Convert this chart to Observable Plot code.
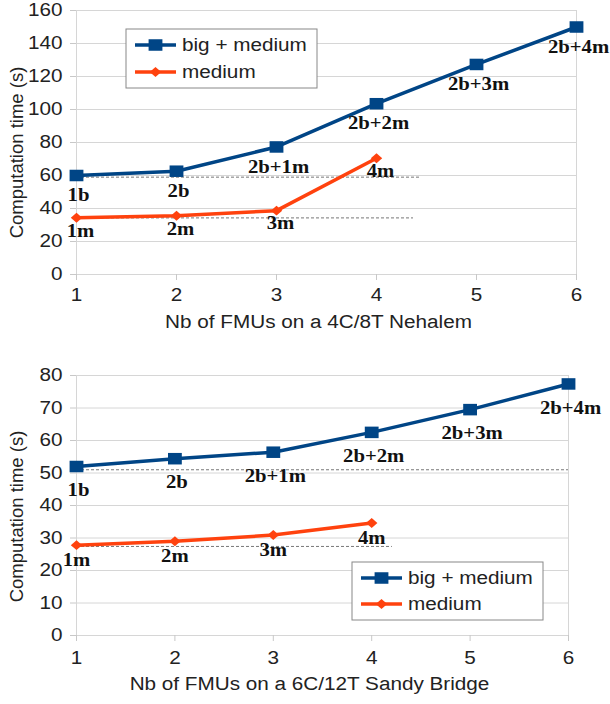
<!DOCTYPE html>
<html><head><meta charset="utf-8">
<script src="https://cdn.jsdelivr.net/npm/d3@7"></script>
<script src="https://cdn.jsdelivr.net/npm/@observablehq/plot@0.6"></script>
<style>body{margin:0;background:#fff;} svg{display:block;}</style>
</head><body><div id="chart"></div>
<script>
// shared categories
const xs = [1, 2, 3, 4, 5, 6];
const seriesNames = ["big + medium", "medium"];
const colors = ["#004586", "#ff420e"];

// top chart: 4C/8T Nehalem
const nehalemBig = [60, 62.6, 77.3, 103.5, 127.3, 150];
const nehalemMedium = [34.4, 35.6, 38.7, 70.5];
const nehalemBigLabels = ["1b", "2b", "2b+1m", "2b+2m", "2b+3m", "2b+4m"];
const nehalemMediumLabels = ["1m", "2m", "3m", "4m"];
const nehalemRefValues = [59, 34.3];
const nehalemRefEnds = [4.45, 4.37];
const nehalemYTicks = [0, 20, 40, 60, 80, 100, 120, 140, 160];
const nehalemTitle = "Nb of FMUs on a 4C/8T Nehalem";

// bottom chart: 6C/12T Sandy Bridge
const sandyBig = [52, 54.4, 56.4, 62.5, 69.5, 77.4];
const sandyMedium = [27.8, 29, 30.9, 34.6];
const sandyBigLabels = ["1b", "2b", "2b+1m", "2b+2m", "2b+3m", "2b+4m"];
const sandyMediumLabels = ["1m", "2m", "3m", "4m"];
const sandyRefValues = [51, 27.4];
const sandyRefEnds = [6, 4.21];
const sandyYTicks = [0, 10, 20, 30, 40, 50, 60, 70, 80];
const sandyTitle = "Nb of FMUs on a 6C/12T Sandy Bridge";

const yAxisTitle = "Computation time (s)";

// the original chart is slightly stretched horizontally
const STRETCH = 1.15;
const wideSquare = {draw(ctx, size) { const h = Math.sqrt(size), w = h * 1.2; ctx.rect(-w / 2, -h / 2, w, h); }};
const wideDiamond = {draw(ctx, size) { const h = Math.sqrt(size), w = h * 1.15; ctx.moveTo(0, -h / 2); ctx.lineTo(w / 2, 0); ctx.lineTo(0, h / 2); ctx.lineTo(-w / 2, 0); ctx.closePath(); }};
const SQ_R = 6.5, DI_R = 5.6;

function stretchTexts(svg) {
  svg.querySelectorAll("text").forEach(t => {
    const tr = t.getAttribute("transform") || "";
    if (/rotate/.test(tr)) return;
    const len = t.getComputedTextLength();
    if (!(len > 0)) return;
    t.setAttribute("textLength", (len * STRETCH).toFixed(2));
    t.setAttribute("lengthAdjust", "spacingAndGlyphs");
  });
}

function makeChart(o) {
  const big = o.big.map((y, i) => ({x: xs[i], y, label: o.bigLabels[i]}));
  const med = o.medium.map((y, i) => ({x: xs[i], y, label: o.mediumLabels[i]}));
  const refs = o.refValues.map((y, i) => ({y, x2: o.refEnds[i]}));
  const yMax = o.yTicks[o.yTicks.length - 1];
  const labelFont = "'Liberation Serif', 'Times New Roman', serif";
  const svg = Plot.plot({
    width: 610, height: o.height,
    marginTop: o.mt, marginBottom: o.mb, marginLeft: 76, marginRight: o.mr,
    style: {fontFamily: "'Liberation Sans', Arial, sans-serif", fontSize: "18px", color: "#222", background: "#fff", overflow: "visible"},
    x: {domain: [1, 6]},
    y: {domain: [0, yMax]},
    marks: [
      Plot.ruleY(o.yTicks, {stroke: "#d6d6d6"}),
      Plot.ruleX([1, 6], {stroke: "#d6d6d6"}),
      Plot.axisX({ticks: xs, tickFormat: d3.format("d"), tickSize: 6, tickPadding: o.xPad, stroke: "#c8c8c8", fill: "#222", fontSize: 18, label: null}),
      Plot.axisY({ticks: o.yTicks, tickFormat: d3.format("d"), tickSize: 6, tickPadding: 8, stroke: "#c8c8c8", fill: "#222", fontSize: 18, label: null}),
      Plot.ruleY(refs, {y: "y", x1: 1, x2: "x2", stroke: "#777", strokeWidth: 1, strokeDasharray: "3,2"}),
      Plot.line(big, {x: "x", y: "y", stroke: colors[0], strokeWidth: 3.5}),
      Plot.dot(big, {x: "x", y: "y", symbol: wideSquare, r: SQ_R, fill: colors[0], stroke: "none"}),
      Plot.line(med, {x: "x", y: "y", stroke: colors[1], strokeWidth: 3.5}),
      Plot.dot(med, {x: "x", y: "y", symbol: wideDiamond, r: DI_R, fill: colors[1], stroke: "none"}),
      Plot.text(big, {x: "x", y: "y", text: "label", dx: o.bigDx, dy: o.bigDy, fontFamily: labelFont, fontWeight: "bold", fontSize: 18, fill: "#111"}),
      Plot.text(med, {x: "x", y: "y", text: "label", dx: o.medDx, dy: o.medDy, fontFamily: labelFont, fontWeight: "bold", fontSize: 18, fill: "#111"}),
      Plot.text([yAxisTitle], {frameAnchor: "left", textAnchor: "middle", rotate: -90, dx: -59, dy: o.yTitleDy, fontSize: 18.5, fill: "#222"}),
      Plot.text([o.title], {frameAnchor: "bottom", dx: o.xTitleDx, dy: o.xTitleDy, fontSize: 18, fill: "#222"})
    ]
  });
  // legend
  const g = d3.select(svg).append("g");
  const L = o.legend;
  g.append("rect").attr("x", L.x).attr("y", L.y).attr("width", L.w).attr("height", L.h)
    .attr("fill", "#fff").attr("stroke", "#888").attr("stroke-width", 1);
  seriesNames.forEach((name, i) => {
    const cy = L.y + L.row0 + i * L.rowStep;
    g.append("line").attr("x1", L.x + 9).attr("x2", L.x + 50).attr("y1", cy).attr("y2", cy)
      .attr("stroke", colors[i]).attr("stroke-width", 3.5);
    const sym = i === 0 ? wideSquare : wideDiamond;
    const r = i === 0 ? SQ_R : DI_R;
    g.append("path").attr("d", d3.symbol(sym, Math.PI * r * r)()).attr("transform", `translate(${L.x + 29.5},${cy})`).attr("fill", colors[i]);
    g.append("text").attr("x", L.x + 56).attr("y", cy).attr("dy", "0.35em").attr("text-anchor", "start")
      .attr("font-family", "'Liberation Sans', Arial, sans-serif").attr("font-size", 18).attr("fill", "#222").text(name);
  });
  return svg;
}

const root = document.getElementById("chart");
const svgTop = makeChart({
  big: nehalemBig, medium: nehalemMedium, bigLabels: nehalemBigLabels, mediumLabels: nehalemMediumLabels,
  refValues: nehalemRefValues, refEnds: nehalemRefEnds, yTicks: nehalemYTicks, title: nehalemTitle,
  height: 350, mt: 10, mb: 76, mr: 34, xPad: 8, bigDx: 2, bigDy: 20, medDx: 4, medDy: 13,
  yTitleDy: 10, xTitleDx: -8, xTitleDy: 53,
  legend: {x: 126, y: 29, w: 191, h: 59, row0: 16, rowStep: 27}
});
const svgBottom = makeChart({
  big: sandyBig, medium: sandyMedium, bigLabels: sandyBigLabels, mediumLabels: sandyMediumLabels,
  refValues: sandyRefValues, refEnds: sandyRefEnds, yTicks: sandyYTicks, title: sandyTitle,
  height: 354, mt: 25, mb: 69, mr: 42, xPad: 10, bigDx: 2, bigDy: 24, medDx: 0, medDy: 15,
  yTitleDy: 11, xTitleDx: -13, xTitleDy: 54,
  legend: {x: 352, y: 212, w: 191, h: 58, row0: 16, rowStep: 26}
});
root.append(svgTop);
root.append(svgBottom);
stretchTexts(svgTop);
stretchTexts(svgBottom);
</script>
</body></html>
